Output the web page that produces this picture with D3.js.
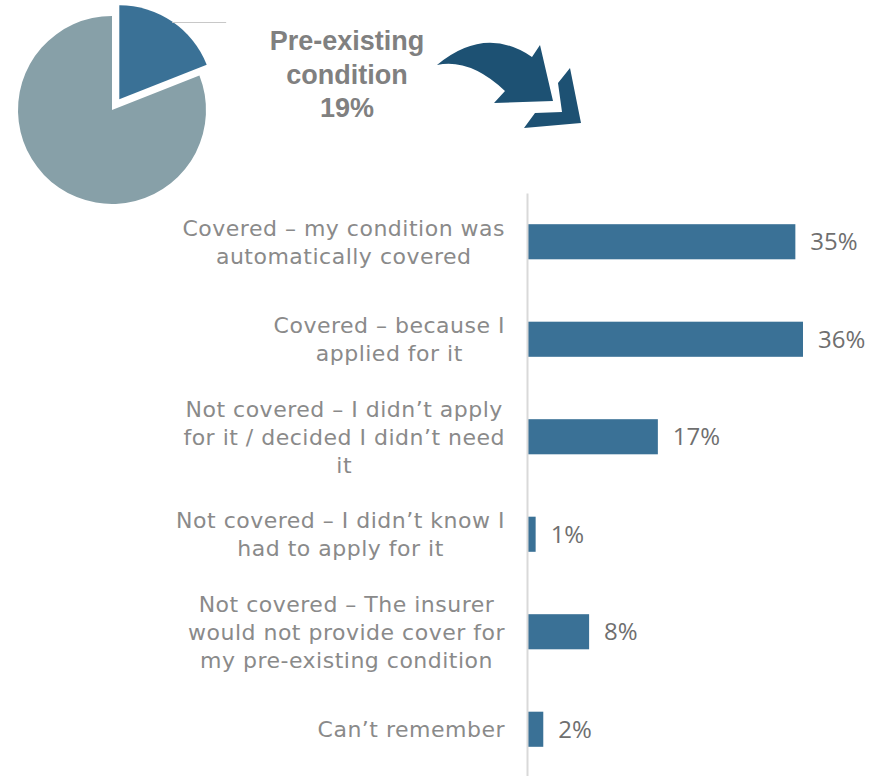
<!DOCTYPE html>
<html>
<head>
<meta charset="utf-8">
<script src="https://cdn.jsdelivr.net/npm/d3@7"></script>
<style>
  body { margin: 0; background: #fff; }
  svg { display: block; }
</style>
</head>
<body>
<svg width="881" height="776"></svg>
<script>
// Pie: share with / without a pre-existing condition
const pieLabels = ["Pre-existing condition", "No pre-existing condition"];
const pieValues = [19, 81];
const pieColors = ["#3a7196", "#87a0a8"];

// Bars: what happened with the condition
const categories = [
  ["Covered – my condition was", "automatically covered"],
  ["Covered – because I", "applied for it"],
  ["Not covered – I didn’t apply", "for it / decided I didn’t need", "it"],
  ["Not covered – I didn’t know I", "had to apply for it"],
  ["Not covered – The insurer", "would not provide cover for", "my pre-existing condition"],
  ["Can’t remember"]
];
const values = [35, 36, 17, 1, 8, 2];

const svg = d3.select("svg");

// ---- pie ----
const cx = 112, cy = 110, r = 94;
const pie = d3.pie().sort(null).value(d => d)(pieValues);
const arc = d3.arc().innerRadius(0).outerRadius(r);
const pieG = svg.append("g").attr("transform", `translate(${cx},${cy})`);

const explode = 13;
const offset = d => {
  const a = (d.startAngle + d.endAngle) / 2;
  return d.index === 0 ? [Math.sin(a) * explode, -Math.cos(a) * explode] : [0, 0];
};

pieG.selectAll("path")
  .data(pie)
  .join("path")
  .attr("d", arc)
  .attr("transform", d => `translate(${offset(d)})`)
  .attr("fill", (d, i) => pieColors[i]);

// leader line from the exploded slice to the label
const s0 = pie[0];
const mid = (s0.startAngle + s0.endAngle) / 2;
const o0 = offset(s0);
const lx = o0[0] + Math.sin(mid) * r, ly = o0[1] - Math.cos(mid) * r;
pieG.append("line")
  .attr("x1", lx).attr("y1", ly + 1)
  .attr("x2", lx + 54).attr("y2", ly + 1)
  .attr("stroke", "#c8c8c8")
  .attr("stroke-width", 1.2);

// pie label
const title = svg.append("text")
  .attr("text-anchor", "middle")
  .attr("font-family", "Liberation Sans, Arial, sans-serif")
  .attr("font-weight", "bold")
  .attr("font-size", 27)
  .attr("fill", "#808080");
["Pre-existing", "condition", pieValues[0] + "%"].forEach((t, i) => {
  title.append("tspan").attr("x", 347).attr("y", 50 + i * 33.5).text(t);
});

// curved arrow pointing to the bars
svg.append("path")
  .attr("d", "M437,65 Q485,25 532,57 L540,45 L553,101 L494,103 L505,91 Q470,58 437,65 Z")
  .attr("fill", "#1d5173");
svg.append("path")
  .attr("d", "M570,68 L581,123 L524,128 L535,113 L562,112 L558,83 Z")
  .attr("fill", "#1d5173");

// ---- bars ----
const x = d3.scaleLinear().domain([0, 36]).range([528, 803]);
const y = d3.scaleBand()
  .domain(d3.range(categories.length))
  .range([193, 778])
  .paddingInner(0.64)
  .paddingOuter(0.32);

svg.append("g")
  .selectAll("rect")
  .data(values)
  .join("rect")
  .attr("x", x(0))
  .attr("y", (d, i) => y(i))
  .attr("width", d => x(d) - x(0))
  .attr("height", y.bandwidth())
  .attr("fill", "#3a7196");

// vertical axis line
const axis = svg.append("g")
  .attr("transform", `translate(${x(0) - 1},0)`)
  .call(d3.axisLeft(y).tickSize(0).tickSizeOuter(0).tickFormat(""));
axis.select(".domain").attr("stroke", "#d9d9d9").attr("stroke-width", 2);

// value labels
svg.append("g")
  .selectAll("text")
  .data(values)
  .join("text")
  .attr("x", d => x(d) + 15)
  .attr("y", (d, i) => y(i) + y.bandwidth() / 2 + 8.5)
  .attr("font-family", "Open Sans, sans-serif")
  .attr("font-size", 24)
  .attr("fill", "#6f6f6f")
  .text(d => d + "%");

// category labels: lines centred within the block, block right-aligned
const lineH = 28;
const labels = svg.append("g")
  .attr("font-family", "DejaVu Sans, sans-serif")
  .attr("font-size", 22)
  .attr("letter-spacing", 0.5)
  .attr("fill", "#8a8a8a")
  .attr("text-anchor", "middle");

categories.forEach((lines, i) => {
  const t = labels.append("text");
  const yc = y(i) + y.bandwidth() / 2;
  const y0 = yc - (lines.length - 1) * lineH / 2 + 8;
  lines.forEach((s, j) => {
    t.append("tspan").attr("y", y0 + j * lineH).text(s);
  });
  const w = d3.max(t.selectAll("tspan").nodes(), n => n.getComputedTextLength());
  t.selectAll("tspan").attr("x", 505 - w / 2);
});
</script>
</body>
</html>
